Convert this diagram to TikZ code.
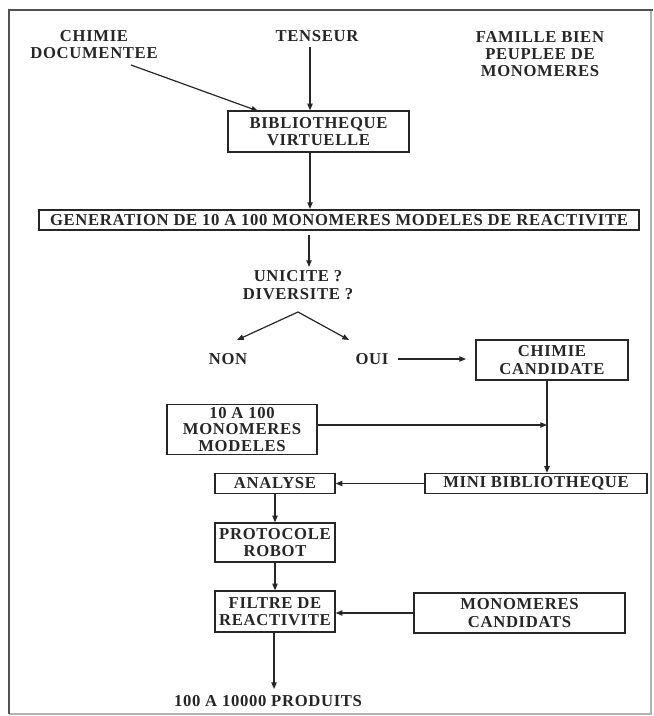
\documentclass[tikz,border=0pt]{standalone}
\usepackage{fontspec}
\setmainfont{Liberation Serif}[LetterSpace=4]
\usetikzlibrary{arrows.meta}
\definecolor{ink}{gray}{0.15}
\tikzset{
  every node/.style={font=\bfseries\fontsize{12.5}{13}\selectfont, text=ink, inner sep=0pt, align=center},
  box/.style={draw=ink, line width=1pt},
  arr/.style={draw=ink, line width=0.9pt, -{Triangle[length=5pt,width=4pt]}},
}
\begin{document}
\begin{tikzpicture}[x=0.75pt,y=-0.75pt]
\useasboundingbox (0,0) rectangle (653,716);
% frame
\draw[draw=gray!60, line width=0.8pt] (651,10) -- (651,714) -- (9,714);
\draw[draw=ink!80, line width=1.2pt] (9,714) -- (9,10) -- (653,10);

% text nodes
\node (chimie) at (94,44.5) {CHIMIE\\DOCUMENTEE};
\node (tenseur) at (317,36) {TENSEUR};
\node (famille) at (540,54) {FAMILLE BIEN\\PEUPLEE DE\\MONOMERES};
\node (uni) at (298,285) {UNICITE ?\\DIVERSITE ?};
\node (non) at (228,359) {NON};
\node (oui) at (372,359) {OUI};
\node (produits) at (268,701) {100 A 10000 PRODUITS};

% boxes
\node[box, minimum width=181*0.75pt, minimum height=41*0.75pt] (biblio) at (318.5,131.5) {BIBLIOTHEQUE\\VIRTUELLE};
\node[box, line width=1.6pt, minimum width=600*0.75pt, minimum height=20*0.75pt] (gen) at (339,220) {GENERATION DE 10 A 100 MONOMERES MODELES DE REACTIVITE};
\node[box, minimum width=152*0.75pt, minimum height=40*0.75pt] (cand) at (552,360) {CHIMIE\\CANDIDATE};
\node[box, minimum width=150*0.75pt, minimum height=50*0.75pt, font=\bfseries\fontsize{12.5}{12.2}\selectfont] (modeles) at (242,429.5) {10 A 100\\MONOMERES\\MODELES};
\node[box, minimum width=120*0.75pt, minimum height=20*0.75pt] (analyse) at (275,483.5) {ANALYSE};
\node[box, minimum width=222*0.75pt, minimum height=20*0.75pt] (mini) at (536,483.5) {MINI BIBLIOTHEQUE};
\node[box, minimum width=120*0.75pt, minimum height=39*0.75pt] (protocole) at (275,542.5) {PROTOCOLE\\ROBOT};
\node[box, minimum width=120*0.75pt, minimum height=41*0.75pt] (filtre) at (275,611.5) {FILTRE DE\\REACTIVITE};
\node[box, minimum width=211*0.75pt, minimum height=40*0.75pt] (moncand) at (519.5,613) {MONOMERES\\CANDIDATS};

% helper coordinates
\coordinate (c1) at (131,65);
\coordinate (b1) at (258,111);
\coordinate (t1) at (310,47);
\coordinate (g1) at (309,235);
\coordinate (g2) at (309,267);
\coordinate (apex) at (298,312);
\coordinate (nonend) at (237,340);
\coordinate (ouiend) at (349,340);
\coordinate (o1) at (398,359);
\coordinate (o2) at (466,359);
\coordinate (v1) at (547,380);
\coordinate (m1) at (547,425);
\coordinate (p1) at (274,689);

% connectors
\draw[arr] (c1) -- (b1);
\draw[arr] (t1) -- (t1 |- biblio.north);
\draw[arr] (biblio.south -| t1) -- (t1 |- gen.north);
\draw[arr] (g1) -- (g2);
\draw[arr] (apex) -- (nonend);
\draw[arr] (apex) -- (ouiend);
\draw[arr] (o1) -- (o2);
\draw[arr] (v1) -- (v1 |- mini.north);
\draw[arr] (modeles.east |- m1) -- (m1);
\draw[arr] (mini.west) -- (mini.west -| analyse.east);
\draw[arr] (analyse.south) -- (protocole.north);
\draw[arr] (protocole.south) -- (filtre.north);
\draw[arr] (moncand.west) -- (moncand.west -| filtre.east);
\draw[arr] (filtre.south -| p1) -- (p1);
\end{tikzpicture}
\end{document}
